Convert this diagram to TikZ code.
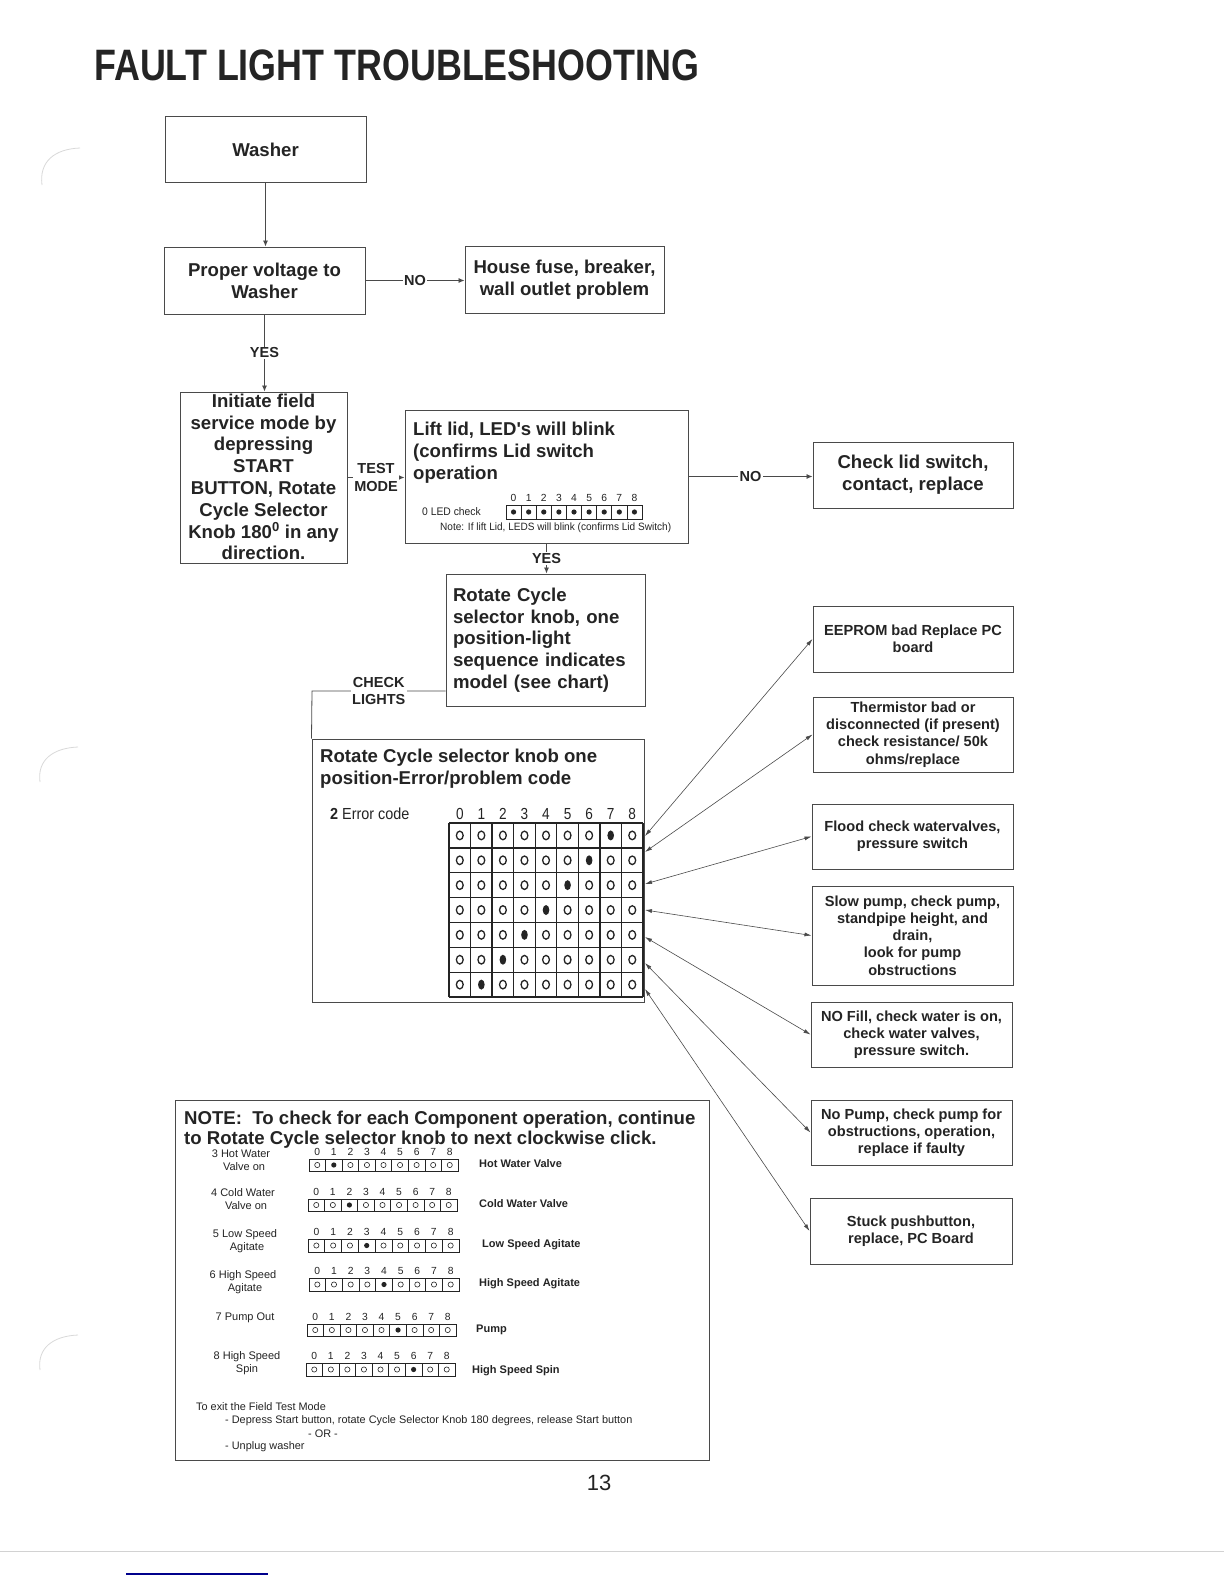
\documentclass[tikz,border=0pt]{standalone}
\usepackage{fontspec}
\setmainfont{Liberation Sans}
\usetikzlibrary{arrows.meta,calc}
\definecolor{ink}{HTML}{242424}
\definecolor{linec}{HTML}{4a4a4a}
% #1 x0, #2 y0 (top), #3 width, #4 height, #5 filled column (9 = all), #6 name prefix
\newcommand{\ledrow}[6]{%
  \draw[line width=0.9pt, draw=ink] (#1,#2) rectangle ++(#3,#4);
  \foreach \c in {1,...,8} {\draw[line width=0.7pt, draw=ink] ({#1+\c*#3/9},#2) -- ++(0,#4);}
  \foreach \c in {0,...,8} {%
    \pgfmathsetmacro\cx{#1+(\c+0.5)*#3/9}
    \pgfmathsetmacro\cy{#2+#4/2}
    \pgfmathtruncatemacro\isf{(\c==#5)||(#5==9)}
    \node[digit] (#6\c) at (\cx,{#2-7}) {\c};
    \ifnum\isf=1 \fill[ink] (\cx,\cy) circle (2.6pt);
    \else \draw[ink, line width=0.6pt] (\cx,\cy) circle (2.6pt); \fi
  }%
}
\begin{document}
\begin{tikzpicture}[x=1pt,y=-1pt,
  box/.style={draw=linec, line width=1pt, rectangle, inner sep=3pt, align=center, text=ink,
              font=\bfseries\fontsize{18.6}{21.8}\selectfont},
  sbox/.style={box, font=\bfseries\fontsize{14.6}{17.2}\selectfont},
  plain/.style={inner sep=0pt, text=ink},
  lbl/.style={fill=white, inner sep=1.2pt, text=ink, align=center,
              font=\bfseries\fontsize{14.5}{17.5}\selectfont},
  flow/.style={draw=linec, line width=0.8pt, -{Latex[length=6pt,width=5pt]}},
  dbl/.style={draw=linec, line width=0.6pt, {Latex[length=7pt,width=4pt]}-{Latex[length=7pt,width=4pt]}},
  digit/.style={inner sep=0pt, text=ink, font=\fontsize{10.3}{11}\selectfont},
  gridl/.style={draw=ink, line width=1.3pt},
]
\useasboundingbox (0,0) rectangle (1224,1584);
\fill[white] (0,0) rectangle (1224,1584);

% scan artifacts (hole punches, page edge)
\draw[gray!30, line width=0.8pt] (42,185) .. controls (39,162) and (54,149) .. (80,148);
\draw[gray!30, line width=0.8pt] (40,782) .. controls (37,760) and (53,748) .. (78,747);
\draw[gray!30, line width=0.8pt] (40,1370) .. controls (37,1348) and (53,1336) .. (78,1335);
\draw[gray!35, line width=0.8pt] (0,1551) -- (1224,1551);
\draw[blue!55!black, line width=1.2pt] (126,1574) -- (268,1574);

% title
\node[plain, anchor=west, font=\bfseries\fontsize{44}{50}\selectfont] (title) at (94,65)
  {\scalebox{0.815}[1]{FAULT LIGHT TROUBLESHOOTING}};

% main flow boxes
\node[box, minimum width=201, minimum height=65] (washer) at (265.5,149.5) {Washer};
\node[box, minimum width=201, minimum height=67] (proper) at (264.5,280.5) {Proper voltage to\\Washer};
\node[box, minimum width=199, minimum height=67] (house) at (564.5,279.5) {House fuse, breaker,\\wall outlet problem};
\node[box, minimum width=167, minimum height=171] (init) at (263.5,477.5) {};
\node[plain, align=center, font=\bfseries\fontsize{18.6}{21.8}\selectfont] (inittext) at (263.5,477)
  {Initiate field\\service mode by\\depressing\\START\\BUTTON, Rotate\\Cycle Selector\\Knob 180\textsuperscript{0} in any\\direction.};
\node[box, minimum width=283, minimum height=133] (lift) at (546.5,476.5) {};
\node[plain, anchor=north west, align=left, font=\bfseries\fontsize{18.6}{22}\selectfont] (lifttext) at (413,421.5)
  {Lift lid, LED\textquotesingle s will blink\\(confirms Lid switch\\operation};
\node[plain, anchor=west, font=\fontsize{11}{12}\selectfont] (ledlbl) at (422,512) {\scalebox{0.94}[1]{0 LED check}};
\ledrow{506}{505}{136}{14}{9}{ld}
\node[plain, anchor=west, font=\fontsize{10.6}{12}\selectfont] (lednote) at (440,528)
  {\scalebox{0.95}[1]{Note: If lift Lid, LEDS will blink (confirms Lid Switch)}};
\node[box, minimum width=200, minimum height=66] (chk) at (913,475) {Check lid switch,\\contact, replace};
\node[box, minimum width=199, minimum height=132, text width=185, align=left] (rot) at (545.5,640)
  {Rotate Cycle\\selector knob, one\\position-light\\sequence indicates\\model (see chart)};

% error box
\node[draw=linec, line width=1pt, minimum width=332, minimum height=263, inner sep=0] (err) at (478,870.5) {};
\node[plain, anchor=north west, align=left, font=\bfseries\fontsize{18.6}{22}\selectfont] (errtext) at (320,749)
  {Rotate Cycle selector knob one\\position-Error/problem code};
\node[plain, anchor=base west, font=\fontsize{16}{17}\selectfont] (errcode) at (330,819)
  {\scalebox{0.9}[1]{\textbf{2} Error code}};
\foreach \c in {0,...,8} {
  \node[plain, anchor=base, font=\fontsize{16}{17}\selectfont] (ed\c) at ({449+21.56*(\c+0.5)},819) {\scalebox{0.85}[1]{\c}};
}
\foreach \c in {0,...,9} {\draw[gridl] ({449+21.56*\c},823) -- ++(0,174);}
\foreach \r in {0,...,7} {\draw[gridl] (449,{823+24.86*\r}) -- (643,{823+24.86*\r});}
\foreach \r in {0,...,6} {
  \foreach \c in {0,...,8} {
    \pgfmathsetmacro\cx{449+21.56*(\c+0.5)}
    \pgfmathsetmacro\cy{823+24.86*(\r+0.5)}
    \pgfmathtruncatemacro\fc{7-\r}
    \ifnum\c=\fc \fill[ink] (\cx,\cy) ellipse [x radius=3.3pt, y radius=5pt];
    \else \draw[ink, line width=1.3pt] (\cx,\cy) ellipse [x radius=3.4pt, y radius=4.3pt]; \fi
  }
}
\coordinate (r0) at (645,836);
\coordinate (r1) at (645,852);
\coordinate (r2) at (645,884);
\coordinate (r3) at (645,910);
\coordinate (r4) at (645,937);
\coordinate (r5) at (645,963);
\coordinate (r6) at (645,989);

% right-hand result boxes
\node[sbox, minimum width=200, minimum height=66] (eeprom) at (913,639) {EEPROM bad Replace PC\\board};
\node[sbox, minimum width=200, minimum height=75] (therm) at (913,734.5)
  {Thermistor bad or\\disconnected (if present)\\check resistance/ 50k\\ohms/replace};
\node[sbox, minimum width=201, minimum height=65] (flood) at (912.5,836.5) {Flood check watervalves,\\pressure switch};
\node[sbox, minimum width=201, minimum height=99] (slow) at (912.5,935.5)
  {Slow pump, check pump,\\standpipe height, and\\drain,\\look for pump\\obstructions};
\node[sbox, minimum width=201, minimum height=65] (nofill) at (911.5,1034.5)
  {NO Fill, check water is on,\\check water valves,\\pressure switch.};
\node[sbox, minimum width=201, minimum height=65] (nopump) at (911.5,1132.5)
  {No Pump, check pump for\\obstructions, operation,\\replace if faulty};
\node[sbox, minimum width=202, minimum height=66] (stuck) at (911,1231) {Stuck pushbutton,\\replace, PC Board};

% flow connectors
\draw[flow] (washer.south) -- (washer.south |- proper.north);
\draw[flow] (proper.east) -- node[lbl] (no1) {NO} (proper.east -| house.west);
\draw[flow] (proper.south) -- node[lbl] (yes1) {YES} (proper.south |- init.north);
\draw[flow] (init.east) -- node[lbl, font=\bfseries\fontsize{14.5}{18}\selectfont] (tm) {TEST\\MODE} (init.east -| lift.west);
\draw[flow] (lift.east) -- node[lbl] (no2) {NO} (lift.east -| chk.west);
\draw[flow] (lift.south) -- node[lbl] (yes2) {YES} (lift.south |- rot.north);
\coordinate (clc) at (312,691);
\draw[draw=linec, line width=0.8pt] (rot.west |- clc) -- node[lbl, font=\bfseries\fontsize{14.5}{16.5}\selectfont] (cl) {CHECK\\LIGHTS} (clc) -- (err.north west);

% double-headed connectors from the error grid
\draw[dbl] (r0) -- (eeprom.west);
\draw[dbl] (r1) -- (therm.west);
\draw[dbl] (r2) -- (flood.west);
\draw[dbl] (r3) -- (slow.west);
\draw[dbl] (r4) -- (nofill.west);
\draw[dbl] (r5) -- (nopump.west);
\draw[dbl] (r6) -- (stuck.west);

% note box
\node[draw=linec, line width=1pt, minimum width=534, minimum height=360, inner sep=0] (note) at (442,1280) {};
\node[plain, anchor=north west, align=left, font=\bfseries\fontsize{18.6}{20}\selectfont] (notetext) at (184,1110.8)
  {NOTE:\ \ To check for each Component operation, continue\\to Rotate Cycle selector knob to next clockwise click.};

\tikzset{rl/.style={plain, align=center, font=\fontsize{11}{13.5}\selectfont},
         rr/.style={plain, anchor=west, font=\bfseries\fontsize{11}{12}\selectfont}}
\node[rl] (l3) at (241,1160) {3 Hot Water\\\hspace*{6pt}Valve on};
\ledrow{309}{1159}{149}{12}{1}{a}
\node[rr] (c3) at (479,1164) {Hot Water Valve};
\node[rl] (l4) at (243,1199) {4 Cold Water\\\hspace*{6pt}Valve on};
\ledrow{308}{1199}{149}{12}{2}{b}
\node[rr] (c4) at (479,1204) {Cold Water Valve};
\node[rl] (l5) at (245,1241) {5 Low Speed\\\hspace*{4pt}Agitate};
\ledrow{308}{1239}{151}{13}{3}{c}
\node[rr] (c5) at (482,1245) {Low Speed Agitate};
\node[rl] (l6) at (243,1282) {6 High Speed\\\hspace*{4pt}Agitate};
\ledrow{309}{1278}{150}{13}{4}{d}
\node[rr] (c6) at (479,1284) {High Speed Agitate};
\node[rl] (l7) at (245,1318) {7 Pump Out};
\ledrow{307}{1324}{149}{12}{5}{e}
\node[rr] (c7) at (476,1330) {Pump};
\node[rl] (l8) at (247,1363) {8 High Speed\\Spin};
\ledrow{306}{1363}{149}{13}{6}{f}
\node[rr] (c8) at (472,1371) {High Speed Spin};

\tikzset{ex/.style={plain, anchor=west, font=\fontsize{10.9}{12}\selectfont}}
\node[ex] (x1) at (196,1407) {To exit the Field Test Mode};
\node[ex] (x2) at (225,1421) {- Depress Start button, rotate Cycle Selector Knob 180 degrees, release Start button};
\node[ex, anchor=center] (x3) at (323,1434) {- OR -};
\node[ex] (x4) at (225,1447) {- Unplug washer};

% page number
\node[plain, font=\fontsize{22}{24}\selectfont] (pg) at (599,1483) {13};
\end{tikzpicture}
\end{document}
